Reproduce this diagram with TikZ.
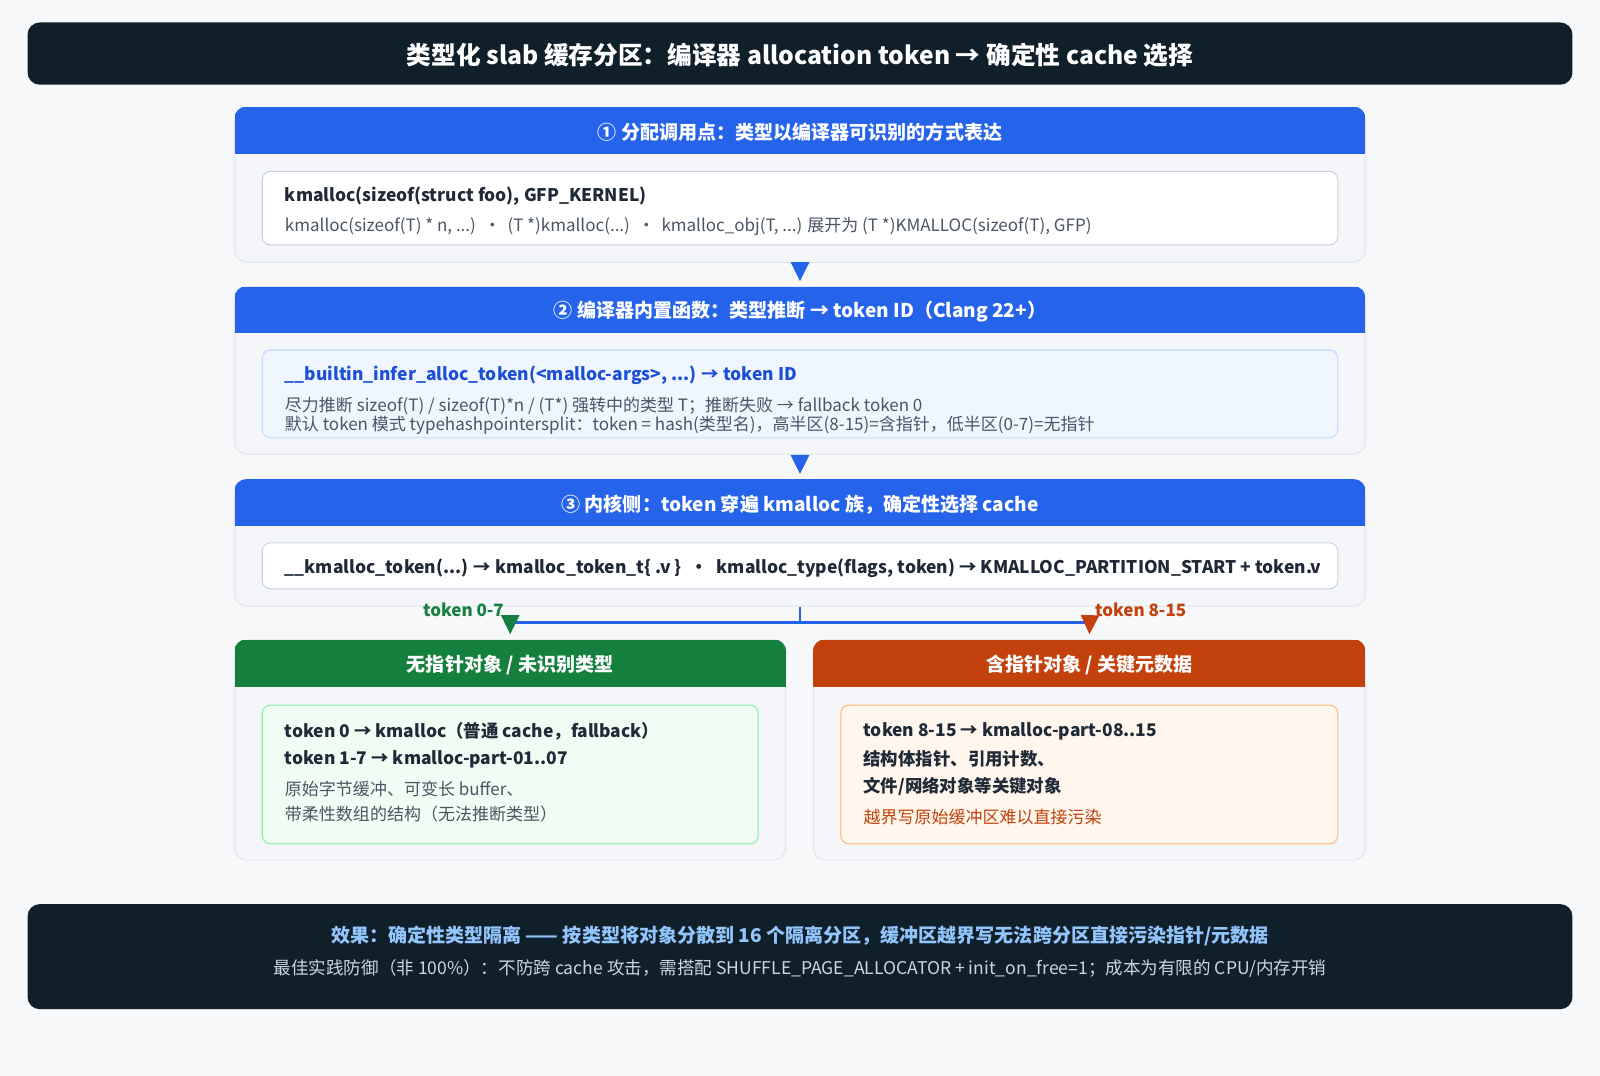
\documentclass[tikz,border=0pt]{standalone}
\usepackage{fontspec}
\setmainfont{Noto Sans CJK SC}
\usepackage{xcolor}
\usetikzlibrary{arrows.meta}

\definecolor{pagebg}{HTML}{F7F8FA}
\definecolor{darkbar}{HTML}{10202A}
\definecolor{hdrblue}{HTML}{2563EB}
\definecolor{hdrgreen}{HTML}{15803D}
\definecolor{hdrorange}{HTML}{C2410C}
\definecolor{secfill}{HTML}{F4F6F9}
\definecolor{secline}{HTML}{E1E6EC}
\definecolor{boxline}{HTML}{CBD5E1}
\definecolor{bluefill}{HTML}{EFF6FF}
\definecolor{blueline}{HTML}{BFDBFE}
\definecolor{greenfill}{HTML}{F0FDF4}
\definecolor{greenline}{HTML}{86EFAC}
\definecolor{orangefill}{HTML}{FFF7ED}
\definecolor{orangeline}{HTML}{FDBA74}
\definecolor{ink}{HTML}{1F2937}
\definecolor{inkgray}{HTML}{4B5563}
\definecolor{inkblue}{HTML}{1D4ED8}
\definecolor{inkorange}{HTML}{C2410C}
\definecolor{footblue}{HTML}{93C5FD}
\definecolor{footgray}{HTML}{CBD5E1}

\begin{document}
\begin{tikzpicture}[x=0.75pt,y=0.75pt,yscale=-1,xscale=1,
    bar/.style={fill=darkbar, rounded corners=9pt, minimum width=1135.5pt, inner sep=0pt},
    sect/.style={draw=secline, fill=secfill, line width=0.75pt, rounded corners=9pt, minimum width=831pt, inner sep=0pt},
    half/.style={draw=secline, fill=secfill, line width=0.75pt, rounded corners=9pt, minimum width=405pt, minimum height=162pt, inner sep=0pt},
    hdr/.style={anchor=north, minimum height=34.5pt, inner sep=0pt, text=white, font=\fontsize{14}{17}\selectfont\bfseries},
    inbox/.style={line width=0.75pt, rounded corners=6pt, inner sep=0pt},
    lineb/.style={anchor=west, inner sep=0pt, text=ink, font=\fontsize{12.8}{16}\selectfont\bfseries},
    liner/.style={anchor=west, inner sep=0pt, text=inkgray, font=\fontsize{12.5}{15}\selectfont},
    flow/.style={-{Triangle[width=13.5pt,length=14pt]}, line width=1.5pt, color=hdrblue, shorten >=3.75pt},
    ]
    \useasboundingbox [fill=pagebg] (0,0) rectangle (1568,1054);

    %Shape: Title bar
    \node [bar, minimum height=45.75pt] (title) at (784,52.5) {};
    % Text Node
    \draw (784,54.5) node [inner sep=0pt, text=white, font=\fontsize{18.15}{22}\selectfont\bfseries] (titletxt) {类型化 slab 缓存分区：编译器 allocation token → 确定性 cache 选择};

    %Shape: Section 1
    \node [sect, minimum height=114pt] (sec1) at (784,181) {};
    \begin{scope}
      \clip [rounded corners=9pt] (sec1.north west) rectangle (sec1.south east);
      \node [hdr, fill=hdrblue, minimum width=831pt] (hd1) at (sec1.north) {\raisebox{-1.5pt}[\height][\depth]{① 分配调用点：类型以编译器可识别的方式表达}};
    \end{scope}
    \node [inbox, draw=boxline, fill=white, minimum width=790.5pt, minimum height=54pt] (box1) at (784,204) {};
    % Text Node
    \draw (279,192) node [lineb] (call) {kmalloc(sizeof(struct foo), GFP\_KERNEL)};
    % Text Node
    \draw (279,222) node [liner] (callvar) {kmalloc(sizeof(T) * n, ...) \,•\, (T *)kmalloc(...) \,•\, kmalloc\_obj(T, ...) 展开为 (T *)KMALLOC(sizeof(T), GFP)};

    %Shape: Section 2
    \node [sect, minimum height=123pt] (sec2) at (784,363) {};
    \begin{scope}
      \clip [rounded corners=9pt] (sec2.north west) rectangle (sec2.south east);
      \node [hdr, fill=hdrblue, minimum width=831pt] (hd2) at (sec2.north) {\raisebox{-1.5pt}[\height][\depth]{② 编译器内置函数：类型推断 → token ID（Clang 22+）}};
    \end{scope}
    \node [inbox, draw=blueline, fill=bluefill, minimum width=790.5pt, minimum height=64.5pt] (box2) at (784,386) {};
    % Text Node
    \draw (279,368) node [lineb, text=inkblue] (builtin) {\_\_builtin\_infer\_alloc\_token(<malloc-args>, ...) → token ID};
    % Text Node
    \draw (279,397.5) node [liner] (infer) {尽力推断 sizeof(T) / sizeof(T)*n / (T*) 强转中的类型 T；推断失败 → fallback token 0};
    % Text Node
    \draw (279,416.5) node [liner] (mode) {默认 token 模式 typehashpointersplit：token = hash(类型名)，高半区(8-15)=含指针，低半区(0-7)=无指针};

    %Shape: Section 3
    \node [sect, minimum height=93pt] (sec3) at (784,532) {};
    \begin{scope}
      \clip [rounded corners=9pt] (sec3.north west) rectangle (sec3.south east);
      \node [hdr, fill=hdrblue, minimum width=831pt] (hd3) at (sec3.north) {\raisebox{-1.5pt}[\height][\depth]{③ 内核侧：token 穿遍 kmalloc 族，确定性选择 cache}};
    \end{scope}
    \node [inbox, draw=boxline, fill=white, minimum width=790.5pt, minimum height=33.75pt] (box3) at (784,554.5) {};
    % Text Node
    \draw (279,557) node [lineb] (kernel) {\_\_kmalloc\_token(...) → kmalloc\_token\_t\{ .v \} \;•\; kmalloc\_type(flags, token) → KMALLOC\_PARTITION\_START + token.v};

    %Shape: Section low (no pointer)
    \node [half] (lowgrp) at (500,735) {};
    \begin{scope}
      \clip [rounded corners=9pt] (lowgrp.north west) rectangle (lowgrp.south east);
      \node [hdr, fill=hdrgreen, minimum width=405pt] (hdlow) at (lowgrp.north) {\raisebox{-1.5pt}[\height][\depth]{无指针对象 / 未识别类型}};
    \end{scope}
    \node [inbox, draw=greenline, fill=greenfill, minimum width=364.5pt, minimum height=102pt] (lowbox) at (500,759) {};
    % Text Node
    \draw (279,717) node [lineb] (low1) {token 0 → kmalloc（普通 cache，fallback）};
    % Text Node
    \draw (279,744) node [lineb] (low2) {token 1-7 → kmalloc-part-01..07};
    % Text Node
    \draw (279,773.5) node [liner] (low3) {原始字节缓冲、可变长 buffer、};
    % Text Node
    \draw (279,797.5) node [liner] (low4) {带柔性数组的结构（无法推断类型）};

    %Shape: Section high (pointer)
    \node [half, minimum width=405.75pt] (highgrp) at (1067.5,735) {};
    \begin{scope}
      \clip [rounded corners=9pt] (highgrp.north west) rectangle (highgrp.south east);
      \node [hdr, fill=hdrorange, minimum width=405.75pt] (hdhigh) at (highgrp.north) {\raisebox{-1.5pt}[\height][\depth]{含指针对象 / 关键元数据}};
    \end{scope}
    \node [inbox, draw=orangeline, fill=orangefill, minimum width=365.25pt, minimum height=102pt] (highbox) at (1067.5,759) {};
    % Text Node
    \draw (846,717) node [lineb] (high1) {token 8-15 → kmalloc-part-08..15};
    % Text Node
    \draw (846,744) node [lineb] (high2) {结构体指针、引用计数、};
    % Text Node
    \draw (846,771) node [lineb] (high3) {文件/网络对象等关键对象};
    % Text Node
    \draw (846,800.5) node [liner, text=inkorange] (high4) {越界写原始缓冲区难以直接污染};

    %Arrows between sections
    \draw [flow] (sec1.south) -- (sec2.north);
    \draw [flow] (sec2.south) -- (sec3.north);

    %Branch
    \coordinate (split) at (784,610);
    \coordinate (lo) at (500,610);
    \coordinate (hi) at (1068,610);
    \draw [hdrblue, line width=1.5pt] (sec3.south) -- (split);
    \draw [hdrblue, line width=2.25pt] (lo) -- (hi);
    \draw [-{Triangle[width=13.5pt,length=14pt]}, hdrgreen, line width=0.75pt, shorten >=3.75pt] (lo) -- (lowgrp.north);
    \draw [-{Triangle[width=13.5pt,length=14pt]}, hdrorange, line width=0.75pt, shorten >=3.75pt] (hi) -- (highgrp.north);
    % Text Node
    \draw (494,597.5) node [anchor=east, inner sep=0pt, text=hdrgreen, font=\fontsize{12.5}{15}\selectfont\bfseries] (lowtag) {token 0-7};
    % Text Node
    \draw (1073,597.5) node [anchor=west, inner sep=0pt, text=hdrorange, font=\fontsize{12.5}{15}\selectfont\bfseries] (hightag) {token 8-15};

    %Shape: Footer bar
    \node [bar, minimum height=77.25pt] (footer) at (784,937.5) {};
    % Text Node
    \draw (784,917) node [inner sep=0pt, text=footblue, font=\fontsize{14}{17}\selectfont\bfseries] (effect) {效果：确定性类型隔离 —— 按类型将对象分散到 16 个隔离分区，缓冲区越界写无法跨分区直接污染指针/元数据};
    % Text Node
    \draw (784,949) node [inner sep=0pt, text=footgray, font=\fontsize{12.9}{15}\selectfont] (caveat) {最佳实践防御（非 100\%）：不防跨 cache 攻击，需搭配 SHUFFLE\_PAGE\_ALLOCATOR + init\_on\_free=1；成本为有限的 CPU/内存开销};

\end{tikzpicture}
\end{document}
